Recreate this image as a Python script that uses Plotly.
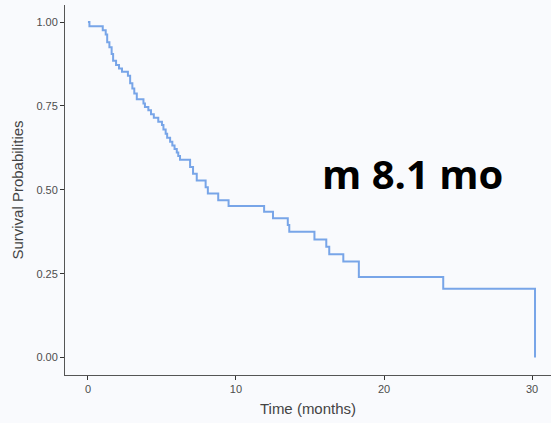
import plotly.graph_objects as go

# Kaplan-Meier estimate: event times (months) and survival after each drop
event_months = [0.1, 1.0, 1.2, 1.3, 1.45, 1.6, 1.7, 1.9, 2.1, 2.3, 2.7, 2.85,
                3.0, 3.13, 3.3, 3.75, 3.85, 4.08, 4.26, 4.45, 4.75, 5.0, 5.1,
                5.25, 5.35, 5.55, 5.7, 5.85, 6.0, 6.1, 6.22, 6.9, 7.1, 7.35,
                7.95, 8.1, 8.8, 9.5, 11.9, 12.5, 13.5, 13.6, 15.3, 16.1,
                16.3, 17.25, 18.3, 24.0, 30.2]
survival = [0.988, 0.976, 0.963, 0.940, 0.925, 0.905, 0.885, 0.872, 0.862,
            0.852, 0.840, 0.818, 0.802, 0.787, 0.770, 0.757, 0.747, 0.737,
            0.725, 0.715, 0.703, 0.693, 0.680, 0.667, 0.655, 0.643, 0.632,
            0.622, 0.611, 0.601, 0.590, 0.568, 0.548, 0.528, 0.508, 0.489,
            0.469, 0.452, 0.435, 0.415, 0.395, 0.375, 0.352, 0.330, 0.308,
            0.286, 0.240, 0.205, 0.0]

x_ticks = [0, 10, 20, 30]
y_ticks = [0.0, 0.25, 0.5, 0.75, 1.0]
y_tick_labels = ["0.00", "0.25", "0.50", "0.75", "1.00"]
median_label = "m 8.1 mo"
median_pos = (21.9, 0.55)

xs = [0.0] + event_months
ys = [1.0] + survival

fig = go.Figure()
fig.add_trace(go.Scatter(
    x=xs, y=ys, mode="lines",
    line=dict(shape="hv", color="#78A5E8", width=2),
    hoverinfo="skip", showlegend=False,
))

axis_common = dict(
    showgrid=False, zeroline=False, showline=True,
    linecolor="#555555", linewidth=1,
    ticks="outside", ticklen=4, tickcolor="#333333", tickwidth=1,
    tickfont=dict(family="Liberation Sans", size=11, color="#4D4D4D"),
)

fig.update_layout(
    width=551, height=423,
    margin=dict(l=65, r=0, t=5, b=48),
    paper_bgcolor="#F9FAFD", plot_bgcolor="#F9FAFD",
    xaxis=dict(
        range=[-1.55, 31.28], tickvals=x_ticks,
        title=dict(text="Time (months)", standoff=9,
                   font=dict(family="Liberation Sans", size=15, color="#444444")),
        **axis_common,
    ),
    yaxis=dict(
        range=[-0.052, 1.051], tickvals=y_ticks, ticktext=y_tick_labels,
        title=dict(text="Survival Probabilities", standoff=9,
                   font=dict(family="Liberation Sans", size=15, color="#444444")),
        **axis_common,
    ),
    annotations=[dict(
        x=median_pos[0], y=median_pos[1], xref="x", yref="y",
        text=median_label, showarrow=False,
        font=dict(family="Open Sans", size=40, color="#000000", weight="bold"),
    )],
)

fig.write_html("out.html")
